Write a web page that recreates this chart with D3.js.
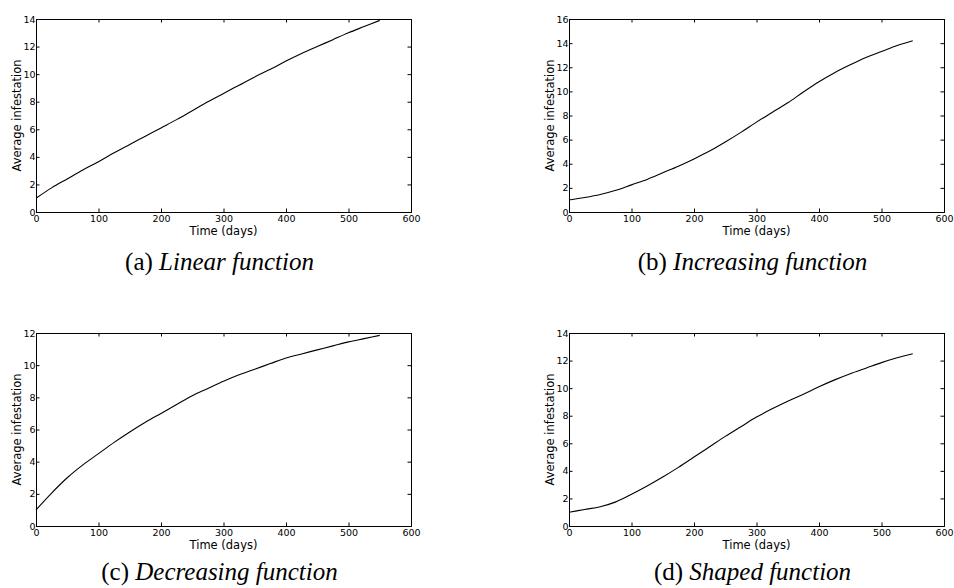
<!DOCTYPE html>
<html>
<head>
<meta charset="utf-8">
<script src="https://cdn.jsdelivr.net/npm/d3@7"></script>
<style>
  html, body { margin: 0; padding: 0; background: #fff; }
  svg { display: block; }
  .tick text { font-family: "DejaVu Sans", sans-serif; }
</style>
</head>
<body>
<svg id="chart" width="954" height="588"></svg>
<script>
// ---- data ----
const days = [0, 25, 50, 75, 100, 125, 150, 175, 200, 225, 250, 275, 300, 325, 350, 375, 400, 425, 450, 475, 500, 525, 550];
const linearValues     = [1.0, 1.75, 2.4, 3.05, 3.65, 4.3, 4.9, 5.5, 6.1, 6.7, 7.35, 8.0, 8.6, 9.2, 9.8, 10.35, 10.95, 11.5, 12.0, 12.5, 13.0, 13.45, 13.9];
const increasingValues = [1.0, 1.2, 1.45, 1.8, 2.25, 2.7, 3.25, 3.8, 4.4, 5.05, 5.8, 6.6, 7.45, 8.25, 9.05, 9.95, 10.8, 11.55, 12.2, 12.8, 13.3, 13.8, 14.2];
const decreasingValues = [1.0, 2.05, 3.0, 3.8, 4.5, 5.2, 5.85, 6.45, 7.0, 7.55, 8.1, 8.55, 9.0, 9.4, 9.75, 10.1, 10.45, 10.7, 10.95, 11.2, 11.45, 11.65, 11.85];
const shapedValues     = [1.0, 1.2, 1.4, 1.75, 2.3, 2.9, 3.55, 4.25, 5.0, 5.75, 6.5, 7.2, 7.9, 8.5, 9.05, 9.55, 10.1, 10.6, 11.05, 11.45, 11.85, 12.2, 12.5];

const xTicks = [0, 100, 200, 300, 400, 500, 600];
const yTicksA = [0, 2, 4, 6, 8, 10, 12, 14];
const yTicksB = [0, 2, 4, 6, 8, 10, 12, 14, 16];
const yTicksC = [0, 2, 4, 6, 8, 10, 12];
const yTicksD = [0, 2, 4, 6, 8, 10, 12, 14];

const panelLetters = ["(a)", "(b)", "(c)", "(d)"];
const panelTitles = ["Linear function", "Increasing function", "Decreasing function", "Shaped function"];
const xLabel = "Time (days)";
const yLabel = "Average infestation";

// ---- layout ----
const svg = d3.select("#chart");
const plotW = 375, plotH = 193;
const panels = [
  { x: 36,  y: 19,  values: linearValues,     yTicks: yTicksA, capDy: 58 },
  { x: 569, y: 19,  values: increasingValues, yTicks: yTicksB, capDy: 58 },
  { x: 36,  y: 333, values: decreasingValues, yTicks: yTicksC, capDy: 54 },
  { x: 569, y: 333, values: shapedValues,     yTicks: yTicksD, capDy: 54 }
];
const tickLen = 3.5;

panels.forEach((p, i) => {
  const g = svg.append("g").attr("transform", `translate(${p.x},${p.y})`);
  const x = d3.scaleLinear().domain([xTicks[0], xTicks[xTicks.length - 1]]).range([0, plotW]);
  const y = d3.scaleLinear().domain([p.yTicks[0], p.yTicks[p.yTicks.length - 1]]).range([plotH, 0]);

  // data line
  const line = d3.line().curve(d3.curveMonotoneX).x((d, k) => x(days[k])).y(d => y(d));
  g.append("path")
    .datum(p.values)
    .attr("d", line)
    .attr("fill", "none")
    .attr("stroke", "#000")
    .attr("stroke-width", 1.1);

  // bottom axis (labels)
  const bottom = g.append("g").attr("transform", `translate(0,${plotH})`)
    .call(d3.axisBottom(x).tickValues(xTicks).tickSize(-tickLen).tickPadding(0).tickFormat(d3.format("d")));
  bottom.selectAll("text").attr("y", 9.5).attr("dy", null).attr("font-size", 9.5).attr("fill", "#000");

  // top axis (ticks only)
  g.append("g")
    .call(d3.axisTop(x).tickValues(xTicks).tickSize(-tickLen).tickFormat(""));

  // left axis (labels)
  const left = g.append("g")
    .call(d3.axisLeft(y).tickValues(p.yTicks).tickSize(-tickLen).tickPadding(0).tickFormat(d3.format("d")));
  left.selectAll("text").attr("x", -0.5).attr("font-size", 9.5).attr("fill", "#000");

  // right axis (ticks only)
  g.append("g").attr("transform", `translate(${plotW},0)`)
    .call(d3.axisRight(y).tickValues(p.yTicks).tickSize(-tickLen).tickFormat(""));

  g.selectAll(".domain").attr("stroke", "#000").attr("stroke-width", 1);
  g.selectAll(".tick line").attr("stroke", "#000").attr("stroke-width", 1);

  // axis labels
  g.append("text")
    .attr("x", plotW / 2)
    .attr("y", plotH + 22.5)
    .attr("text-anchor", "middle")
    .attr("font-family", "DejaVu Sans, sans-serif")
    .attr("font-size", 11.5)
    .text(xLabel);

  g.append("text")
    .attr("transform", `translate(-15,${plotH / 2}) rotate(-90)`)
    .attr("text-anchor", "middle")
    .attr("font-family", "DejaVu Sans, sans-serif")
    .attr("font-size", 11.5)
    .text(yLabel);

  // caption
  const cap = g.append("text")
    .attr("x", plotW / 2 - 4)
    .attr("y", plotH + p.capDy)
    .attr("text-anchor", "middle")
    .attr("font-family", "Liberation Serif, serif")
    .attr("font-size", 25);
  cap.append("tspan").text(panelLetters[i] + " ");
  cap.append("tspan").attr("font-style", "italic").text(panelTitles[i]);
});
</script>
</body>
</html>
